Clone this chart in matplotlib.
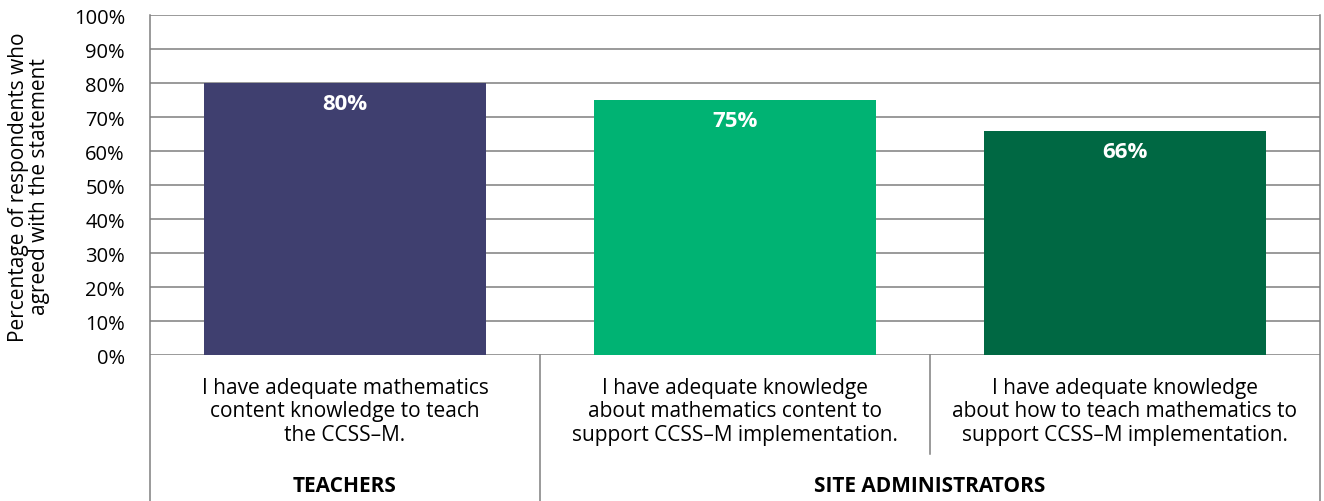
import matplotlib
matplotlib.use("Agg")
import matplotlib.pyplot as plt
import matplotlib.transforms as mtransforms

plt.rcParams['font.family'] = ['Open Sans', 'DejaVu Sans']

statements = [
    "I have adequate mathematics\ncontent knowledge to teach\nthe CCSS–M.",
    "I have adequate knowledge\nabout mathematics content to\nsupport CCSS–M implementation.",
    "I have adequate knowledge\nabout how to teach mathematics to\nsupport CCSS–M implementation.",
]
values = [80, 75, 66]
colors = ["#3f3f6f", "#00b373", "#006843"]
groups = ["TEACHERS", "SITE ADMINISTRATORS"]
group_centers = [0, 1.5]
yticks = list(range(0, 101, 10))

fig = plt.figure(figsize=(13.24, 5.02), dpi=100)
ax = fig.add_axes([150 / 1324, 1 - 356 / 502, 1170 / 1324, 340 / 502])

x = list(range(len(values)))
bars = ax.bar(x, values, width=0.723, color=colors, zorder=3)
for b, v in zip(bars, values):
    ax.text(b.get_x() + b.get_width() / 2, v - 3.0, f"{v}%", ha="center", va="top",
            color="white", fontsize=16, fontweight="bold", zorder=4)

ax.set_xlim(-0.5, 2.5)
ax.set_ylim(0, 100)
ax.set_yticks(yticks)
ax.set_yticklabels([f"{t}%" for t in yticks])
ax.tick_params(axis="y", length=0, pad=18, labelsize=14.5)
ax.set_xticks([])
for s in ax.spines.values():
    s.set_visible(False)

grid_c = "#7f7f7f"
for t in yticks:
    ax.axhline(t, color=grid_c, lw=1.1, zorder=1)

trans = mtransforms.blended_transform_factory(ax.transData, ax.transAxes)
bottom = -146 / 340
for xv, y0 in [(-0.5, bottom), (0.5, bottom), (1.5, -99 / 340), (2.5, bottom)]:
    top = 1 if xv in (-0.5, 2.5) else 0
    ax.plot([xv, xv], [top, y0], color=grid_c, lw=1.1, transform=trans, clip_on=False)

for xi, s in zip(x, statements):
    ax.text(xi, -56 / 340, s, ha="center", va="center", transform=trans,
            fontsize=15, linespacing=1.15)
for xc, g in zip(group_centers, groups):
    ax.text(xc, -131 / 340, g, ha="center", va="center", transform=trans,
            fontsize=15, fontweight="bold")

fig.text(29 / 1324, 1 - 187 / 502, "Percentage of respondents who\nagreed with the statement",
         rotation=90, ha="center", va="center", fontsize=15, linespacing=1.0)

fig.savefig("out.png", dpi=100)
